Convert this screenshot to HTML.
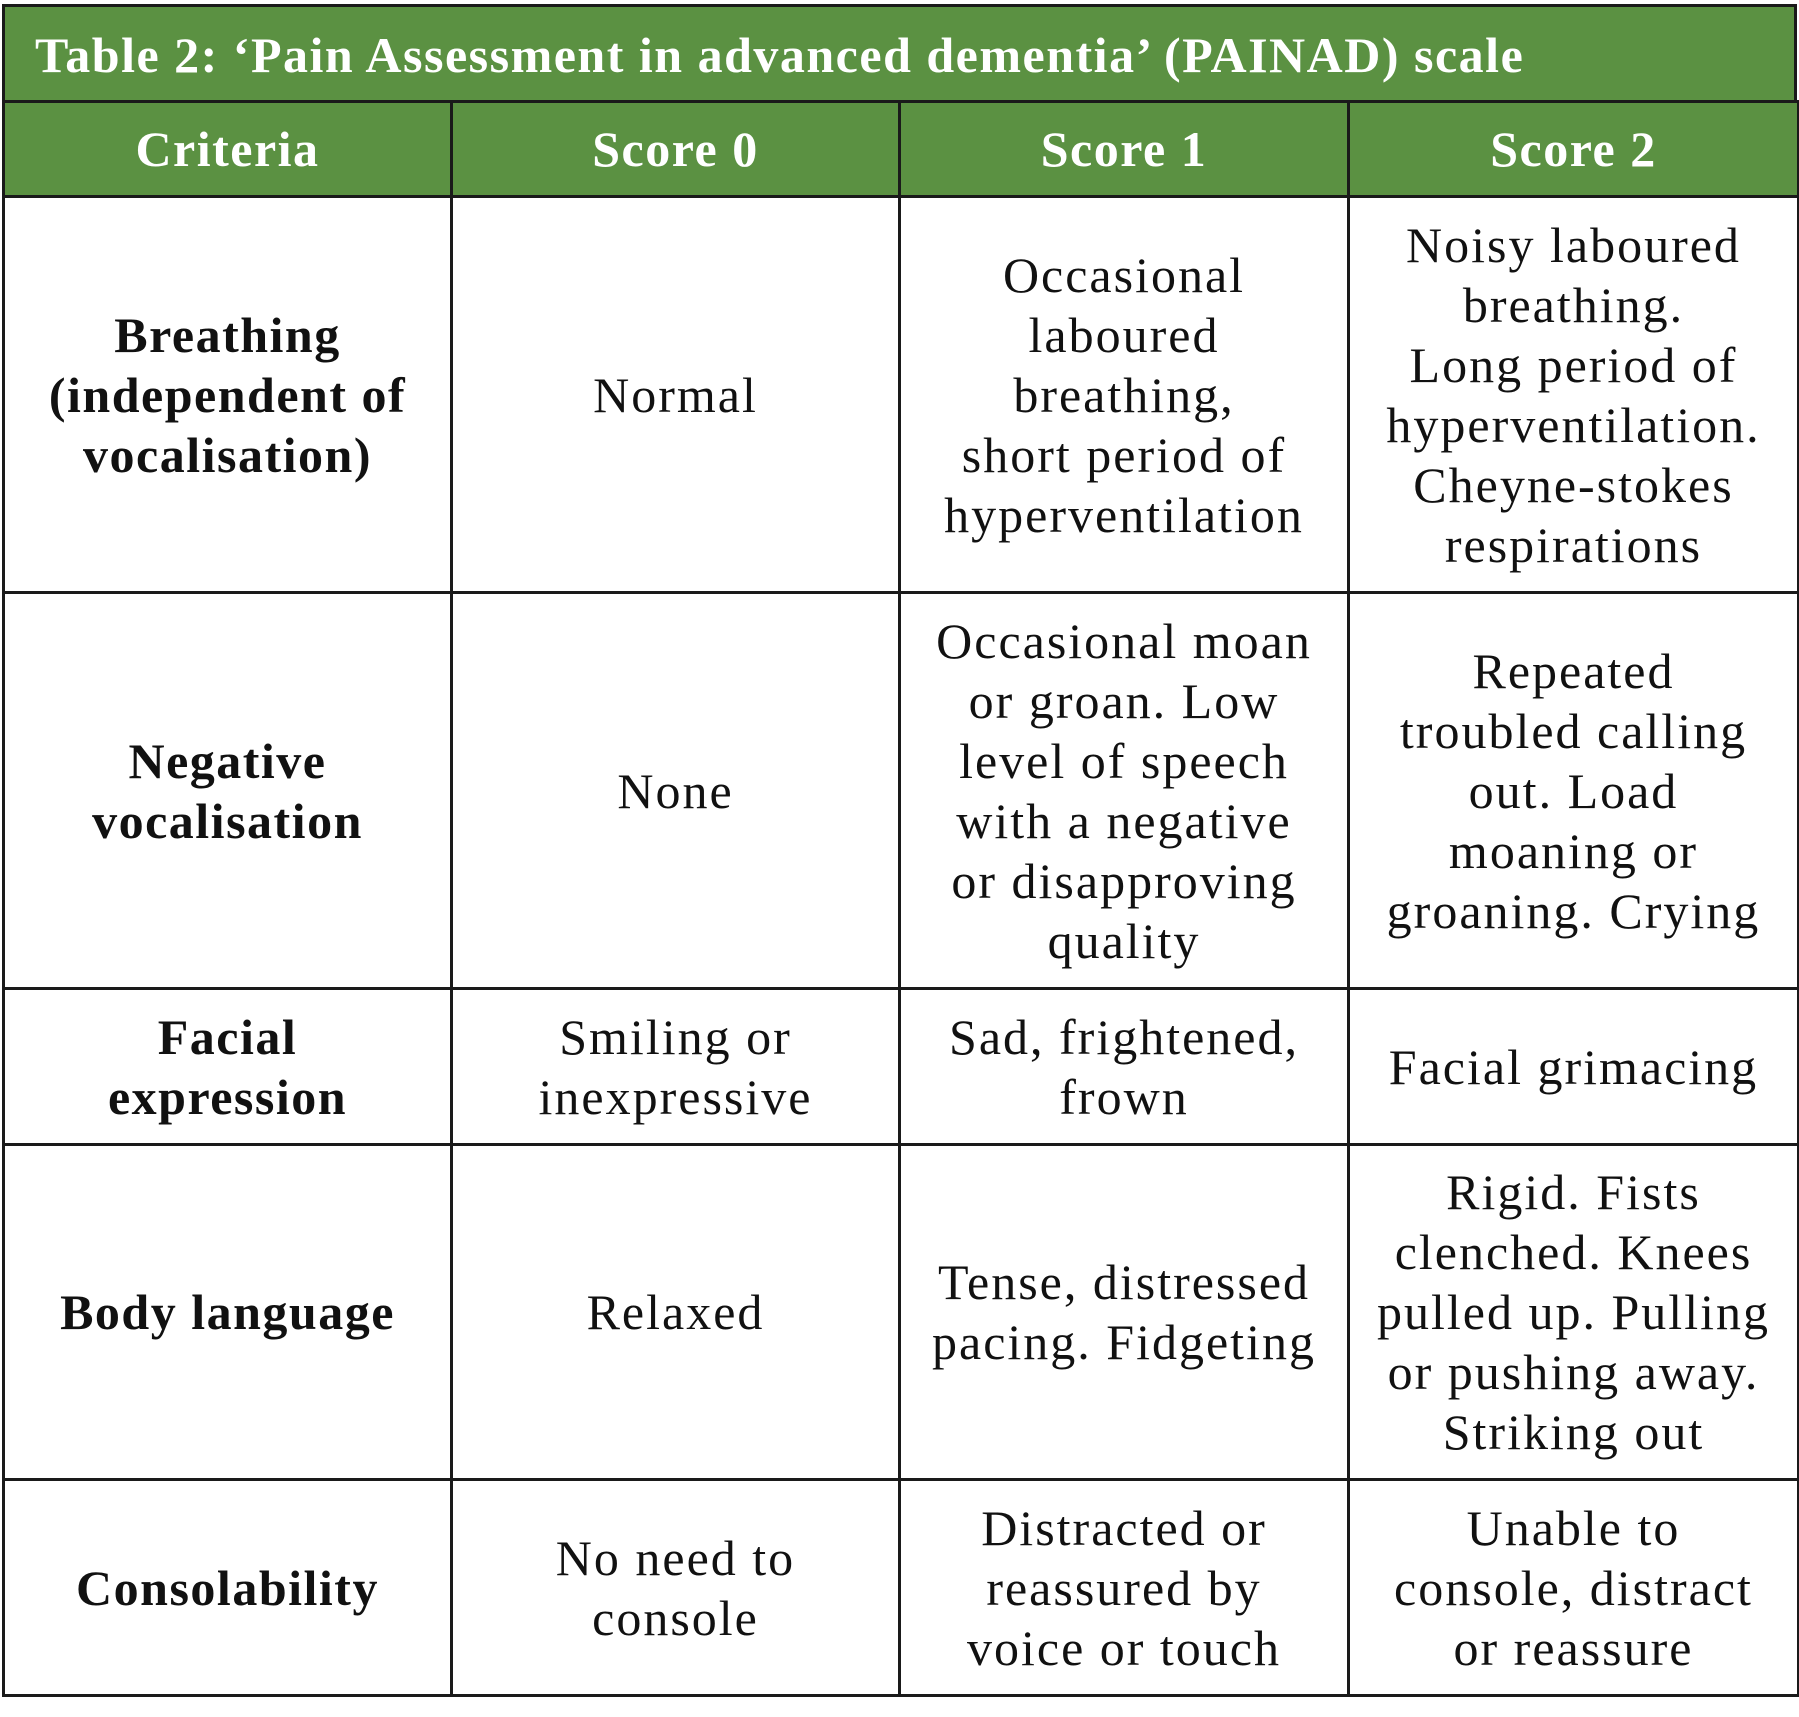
<!DOCTYPE html>
<html><head><meta charset="utf-8">
<style>
html,body{margin:0;padding:0;background:#fff;}
body{width:1799px;height:1717px;position:relative;overflow:hidden;font-family:"Liberation Serif",serif;}
.title{position:absolute;left:2px;top:4px;width:1795px;height:97px;background:#5b9142;border:3.5px solid #1a1a1a;border-bottom:none;color:#fff;font-weight:bold;font-size:50px;letter-spacing:1.5px;line-height:96px;padding-left:30px;box-sizing:border-box;white-space:nowrap;}
table{position:absolute;left:2px;top:100px;width:1795px;border-collapse:collapse;table-layout:fixed;}
td,th{border:3.5px solid #1a1a1a;text-align:center;vertical-align:middle;font-size:50px;letter-spacing:2px;line-height:60px;padding:0;color:#111;}
th{background:#5b9142;color:#fff;font-weight:bold;height:92px;font-size:50px;letter-spacing:1.5px;}
td.c{font-weight:bold;letter-spacing:1.5px;}
</style></head><body>
<div class="title">Table 2: ‘Pain Assessment in advanced dementia’ (PAINAD) scale</div>
<table>
<colgroup><col style="width:448px"><col style="width:448px"><col style="width:449px"><col style="width:450px"></colgroup>
<tr><th>Criteria</th><th>Score 0</th><th>Score 1</th><th>Score 2</th></tr>
<tr style="height:396px"><td class="c">Breathing<br>(independent of<br>vocalisation)</td><td>Normal</td><td>Occasional<br>laboured<br>breathing,<br>short period of<br>hyperventilation</td><td>Noisy laboured<br>breathing.<br>Long period of<br>hyperventilation.<br>Cheyne-stokes<br>respirations</td></tr>
<tr style="height:396px"><td class="c">Negative<br>vocalisation</td><td>None</td><td>Occasional moan<br>or groan. Low<br>level of speech<br>with a negative<br>or disapproving<br>quality</td><td>Repeated<br>troubled calling<br>out. Load<br>moaning or<br>groaning. Crying</td></tr>
<tr style="height:156px"><td class="c">Facial<br>expression</td><td>Smiling or<br>inexpressive</td><td>Sad, frightened,<br>frown</td><td>Facial grimacing</td></tr>
<tr style="height:335px"><td class="c">Body language</td><td>Relaxed</td><td>Tense, distressed<br>pacing. Fidgeting</td><td>Rigid. Fists<br>clenched. Knees<br>pulled up. Pulling<br>or pushing away.<br>Striking out</td></tr>
<tr style="height:216px"><td class="c">Consolability</td><td>No need to<br>console</td><td>Distracted or<br>reassured by<br>voice or touch</td><td>Unable to<br>console, distract<br>or reassure</td></tr>
</table>
</body></html>
